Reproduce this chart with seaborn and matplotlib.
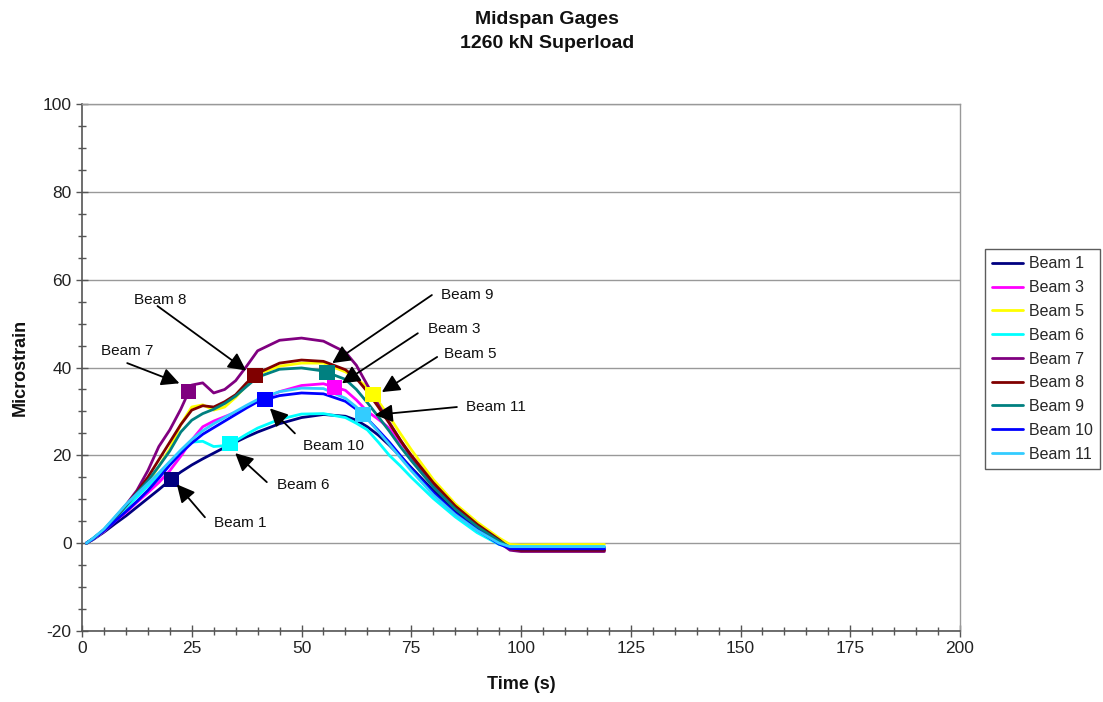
import numpy as np
import pandas as pd
import matplotlib
matplotlib.use("Agg")
import matplotlib.pyplot as plt
from matplotlib.ticker import MultipleLocator
from matplotlib import font_manager
import seaborn as sns

# ---------------- data ----------------
time_s = [1, 2.5, 5, 7.5, 10, 12.5, 15, 17.5, 20, 22.5, 25, 27.5, 30, 32.5, 35, 37.5, 40,
          45, 50, 55, 60, 62.5, 65, 67.5, 70, 72.5, 75, 80, 85, 90, 95, 97.5, 100, 110, 119]

beam1 = [0, 0.8, 2.5, 4.4, 6.2, 8.2, 10.2, 12.2, 14.3, 16.2, 17.8, 19.2, 20.5, 21.8, 23.0, 24.2, 25.3,
         27.2, 28.6, 29.3, 28.9, 28.0, 26.5, 24.6, 22.3, 19.8, 17.2, 12.0, 7.2, 3.2, 0.2, -1.2, -1.5, -1.5, -1.5]
beam3 = [0, 0.9, 2.7, 5.0, 7.0, 9.3, 11.5, 13.8, 16.5, 19.8, 23.5, 26.5, 27.8, 28.8, 29.8, 31.0, 32.3,
         34.5, 35.9, 36.3, 34.8, 32.6, 30.0, 28.2, 26.2, 23.0, 20.0, 14.0, 8.8, 4.2, 0.6, -1.2, -1.5, -1.5, -1.5]
beam5 = [0, 0.9, 2.8, 5.3, 7.8, 10.8, 13.8, 17.5, 21.5, 27.0, 31.0, 31.5, 30.3, 31.0, 33.2, 36.0, 38.5,
         40.3, 41.0, 41.0, 39.0, 37.5, 35.5, 32.3, 28.8, 25.0, 21.3, 14.5, 9.0, 4.8, 1.2, -0.3, -0.4, -0.3, -0.3]
beam6 = [0, 1.1, 3.0, 5.5, 8.0, 10.5, 13.0, 15.5, 18.2, 21.0, 23.0, 23.2, 22.0, 22.2, 23.3, 24.8, 26.2,
         28.2, 29.4, 29.5, 28.6, 27.3, 25.8, 23.0, 20.0, 17.6, 15.0, 10.2, 6.0, 2.4, -0.3, -0.8, -0.8, -0.8, -0.8]
beam7 = [0, 1.0, 3.0, 5.8, 8.7, 12.0, 16.5, 22.0, 25.8, 30.5, 36.0, 36.5, 34.2, 35.0, 37.0, 40.3, 43.8,
         46.2, 46.7, 46.0, 43.5, 40.5, 36.0, 31.5, 27.5, 23.5, 19.5, 13.2, 8.0, 3.8, 0.2, -1.6, -1.9, -1.9, -1.9]
beam8 = [0, 1.0, 3.0, 5.7, 8.5, 11.6, 15.0, 19.0, 23.0, 27.0, 30.3, 31.3, 31.0, 32.2, 33.8, 36.5, 38.7,
         41.0, 41.7, 41.4, 39.5, 37.5, 34.5, 31.0, 27.3, 23.5, 20.0, 13.8, 8.5, 4.3, 0.8, -1.2, -1.6, -1.6, -1.6]
beam9 = [0, 1.0, 3.1, 5.8, 8.6, 11.4, 14.2, 17.5, 21.0, 25.3, 28.0, 29.5, 30.5, 31.8, 33.5, 35.7, 37.8,
         39.6, 39.9, 39.2, 37.3, 35.0, 32.0, 28.8, 25.5, 22.0, 18.8, 12.8, 7.8, 3.8, 0.5, -0.9, -1.1, -1.0, -1.0]
beam10 = [0, 0.9, 2.8, 5.0, 7.2, 9.5, 12.0, 14.8, 17.8, 20.5, 22.8, 24.8, 26.3, 27.8, 29.3, 30.8, 32.2,
          33.6, 34.2, 34.0, 32.3, 30.5, 28.3, 25.7, 23.0, 20.0, 17.0, 11.5, 6.8, 3.0, -0.2, -1.2, -1.3, -1.3, -1.3]
beam11 = [0, 1.1, 3.2, 6.0, 8.8, 11.2, 13.6, 16.0, 18.6, 21.2, 23.6, 25.6, 27.2, 28.6, 30.0, 31.4, 32.7,
          34.5, 35.3, 35.2, 33.0, 31.0, 28.3, 25.4, 22.5, 19.5, 16.5, 11.0, 6.5, 2.9, 0.0, -0.8, -0.8, -0.8, -0.8]

beam_names = ["Beam 1", "Beam 3", "Beam 5", "Beam 6", "Beam 7", "Beam 8", "Beam 9", "Beam 10", "Beam 11"]
beam_values = [beam1, beam3, beam5, beam6, beam7, beam8, beam9, beam10, beam11]
beam_colors = ["#000080", "#FF00FF", "#FFFF00", "#00FFFF", "#800080", "#800000", "#008080", "#0000FF", "#33CCFF"]

# time at which each labelled square marker sits
marker_time = [20.3, 57.6, 66.3, 33.7, 24.3, 39.4, 55.8, 41.7, 64.0]

title_lines = ["Midspan Gages", "1260 kN Superload"]
x_label = "Time (s)"
y_label = "Microstrain"

# ---------------- frame ----------------
rows = []
for name, vals in zip(beam_names, beam_values):
    for t, v in zip(time_s, vals):
        rows.append((name, t, v))
df = pd.DataFrame(rows, columns=["Beam", "Time", "Strain"])

mk = pd.DataFrame({
    "Beam": beam_names,
    "Time": marker_time,
    "Strain": [np.interp(t, time_s, v) for t, v in zip(marker_time, beam_values)],
})

sns.set_theme(style="white")
names = {f.name for f in font_manager.fontManager.ttflist}
base_font = "Liberation Sans" if "Liberation Sans" in names else "DejaVu Sans"
plt.rcParams["font.family"] = [base_font, "DejaVu Sans"]
plt.rcParams["axes.unicode_minus"] = False

fig = plt.figure(figsize=(11.03, 7.02), dpi=100)
ax = fig.add_axes([82 / 1103, 71 / 702, 878 / 1103, 527 / 702])

palette = dict(zip(beam_names, beam_colors))
sns.lineplot(data=df, x="Time", y="Strain", hue="Beam", hue_order=beam_names,
             palette=palette, estimator=None, sort=False, linewidth=2.0, ax=ax, legend=True)
sns.scatterplot(data=mk, x="Time", y="Strain", hue="Beam", hue_order=beam_names,
                palette=palette, marker="s", s=120, edgecolor="none", linewidth=0,
                ax=ax, legend=False, zorder=5)

ax.set_xlim(0, 200)
ax.set_ylim(-20, 100)
ax.xaxis.set_major_locator(MultipleLocator(25))
ax.xaxis.set_minor_locator(MultipleLocator(5))
ax.yaxis.set_major_locator(MultipleLocator(20))
ax.yaxis.set_minor_locator(MultipleLocator(5))
ax.tick_params(axis="both", which="major", direction="inout", length=8, width=1, color="#555555",
               labelsize=12.5, labelcolor="#222222", left=True, bottom=True)
ax.tick_params(axis="both", which="minor", direction="inout", length=6, width=1, color="#555555",
               left=True, bottom=True)
ax.grid(axis="y", which="major", color="#999999", linewidth=1)
ax.grid(axis="x", visible=False)
for side in ["top", "right"]:
    ax.spines[side].set_color("#999999")
    ax.spines[side].set_linewidth(1)
for side in ["left", "bottom"]:
    ax.spines[side].set_color("#555555")
    ax.spines[side].set_linewidth(1.2)

ax.set_xlabel(x_label, fontsize=13, fontweight="bold", labelpad=14, color="#111111")
ax.set_ylabel(y_label, fontsize=13, fontweight="bold", labelpad=10, color="#111111")

fig.text(547 / 1103, 1 - 19 / 702, title_lines[0], ha="center", va="center", fontsize=14, fontweight="bold",
         color="#111111")
fig.text(547 / 1103, 1 - 44 / 702, title_lines[1], ha="center", va="center", fontsize=14, fontweight="bold",
         color="#111111")

# annotations: (label, text position, arrow tail, arrow tip)
annots = [
    ("Beam 8", (17.8, 55.4), (17.2, 54.0), (37.4, 39.3)),
    ("Beam 7", (10.3, 43.7), (10.3, 41.0), (22.2, 36.4)),
    ("Beam 1", (36.0, 4.6), (28.0, 5.9), (21.6, 13.4)),
    ("Beam 6", (50.3, 13.2), (42.1, 13.9), (34.9, 20.5)),
    ("Beam 10", (57.2, 22.1), (48.5, 25.0), (42.8, 30.7)),
    ("Beam 9", (87.7, 56.5), (79.7, 56.5), (57.0, 41.0)),
    ("Beam 3", (84.7, 48.7), (76.5, 47.8), (59.2, 36.4)),
    ("Beam 5", (88.4, 43.0), (80.9, 42.4), (68.3, 34.4)),
    ("Beam 11", (94.3, 31.0), (85.4, 31.0), (66.7, 29.2)),
]
for label, tpos, tail, tip in annots:
    ax.text(tpos[0], tpos[1], label, ha="center", va="center", fontsize=11, color="#111111", zorder=6)
    ax.annotate("", xy=tip, xytext=tail,
                arrowprops=dict(arrowstyle="-|>,head_length=0.9,head_width=0.45",
                                color="black", lw=1.3, shrinkA=0, shrinkB=0), zorder=6)

handles, labels = ax.get_legend_handles_labels()
leg = ax.legend(handles, labels, loc="center left", bbox_to_anchor=(985 / 1103, 1 - 359 / 702),
                bbox_transform=fig.transFigure, frameon=True, fontsize=11.5, handlelength=1.95,
                labelspacing=0.55, borderpad=0.45, handletextpad=0.35, fancybox=False, borderaxespad=0)
leg.get_frame().set_edgecolor("#333333")
leg.get_frame().set_linewidth(1.0)
for h in leg.get_lines():
    h.set_linewidth(2.0)

fig.savefig("out.png", dpi=100)
